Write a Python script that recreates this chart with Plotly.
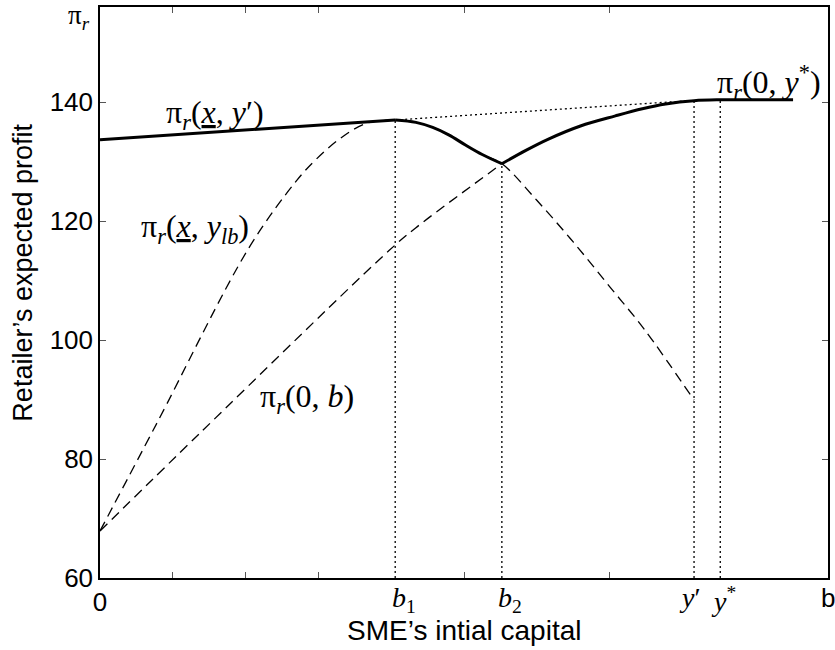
import plotly.graph_objects as go

# Capital thresholds on the horizontal axis
b1, b2, y_prime, y_star = 4.055, 5.52, 8.16, 8.52
x_max = 10.0

# pi_r(x_, y_lb): rises to its peak at b1, then falls
x_lb = [0, 0.78, 2.05, 2.70, 2.97, 3.30, 3.65, 4.055, 4.34, 4.57, 4.79, 5.02, 5.25, 5.52,
        6.0, 6.5, 7.0, 7.49, 8.16]
y_lb = [67.9, 86.0, 115.6, 126.8, 130.4, 133.9, 136.4, 137.0, 136.6, 135.75, 134.5, 132.8, 131.2, 129.65,
        123.5, 116.5, 109.0, 101.6, 89.9]

# pi_r(0, b): increasing in b up to y*, flat afterwards
x_0b = [0, 1.41, 3.97, 4.34, 5.52, 5.85, 6.16, 6.6, 7.08, 7.45, 7.77, 8.16, 8.52, 9.52]
y_0b = [67.9, 84.8, 115.05, 118.9, 129.65, 131.9, 133.8, 136.0, 137.7, 138.9, 139.7, 140.25, 140.4, 140.4]

# pi_r(x_, y'): linear in b
x_lin = [0, 4.055, 8.16]
y_lin = [133.7, 137.0, 140.3]

y_ticks = [60, 80, 100, 120, 140]
x_tick_marks = [0, 1, 2, 3, 5, 7, 10]
x_tick_text = ["0", "", "", "", "", "", ""]

y_range = [60, 156]

SERIF = "Liberation Serif"
SANS = "Liberation Sans"

fig = go.Figure()

dash_line = dict(color="black", width=1.3, dash="10px,6px")
dot_line = dict(color="black", width=1.3, dash="2px,3px")
thick_line = dict(color="black", width=3)

# dashed component curves
fig.add_trace(go.Scatter(x=x_lb, y=y_lb, mode="lines", line_shape="spline", line=dash_line))
i_b2_0b = x_0b.index(b2)
fig.add_trace(go.Scatter(x=x_0b[:i_b2_0b + 1], y=y_0b[:i_b2_0b + 1], mode="lines",
                         line_shape="spline", line=dash_line))

# dotted continuation of the linear profit
fig.add_trace(go.Scatter(x=x_lin[1:], y=y_lin[1:], mode="lines", line=dot_line))

# dotted verticals at the thresholds
i_yp = x_0b.index(y_prime)
i_ys = x_0b.index(y_star)
for xv, yv in [(b1, y_lin[1]), (b2, y_0b[i_b2_0b]), (y_prime, y_0b[i_yp]), (y_star, y_0b[i_ys])]:
    fig.add_trace(go.Scatter(x=[xv, xv], y=[y_range[0], yv], mode="lines", line=dot_line))

# thick upper envelope
i_b1 = x_lb.index(b1)
i_b2 = x_lb.index(b2)
fig.add_trace(go.Scatter(x=x_lin[:2], y=y_lin[:2], mode="lines", line=thick_line))
fig.add_trace(go.Scatter(x=x_lb[i_b1:i_b2 + 1], y=y_lb[i_b1:i_b2 + 1], mode="lines",
                         line_shape="spline", line=thick_line))
fig.add_trace(go.Scatter(x=x_0b[i_b2_0b:], y=y_0b[i_b2_0b:], mode="lines",
                         line_shape="spline", line=thick_line))

math_font = dict(family=SERIF, size=32, color="black")
annotations = [
    dict(x=1.58, y=138.0, text="π<sub><i>r</i></sub>(<u><i>x</i></u>, <i>y</i>′)"),
    dict(x=1.30, y=118.7, text="π<sub><i>r</i></sub>(<u><i>x</i></u>, <i>y</i><sub><i>lb</i></sub>)"),
    dict(x=2.85, y=90.2, text="π<sub><i>r</i></sub>(0, <i>b</i>)"),
    dict(x=9.19, y=143.3, text="π<sub><i>r</i></sub>(0, <i>y</i><sup>*</sup>)"),
]
for a in annotations:
    a.update(xref="x", yref="y", showarrow=False, xanchor="center", yanchor="middle",
             font=math_font)

# threshold labels under the axis
for xv, txt, dx in [(b1, "<i>b</i><sub>1</sub>", 9), (b2, "<i>b</i><sub>2</sub>", 8),
                    (y_prime, "<i>y</i>′", -4), (y_star, "<i>y</i><sup>*</sup>", 3)]:
    annotations.append(dict(x=xv, y=-0.003, xref="x", yref="paper", text=txt,
                            showarrow=False, xanchor="center", yanchor="top",
                            xshift=dx, font=dict(family=SERIF, size=28, color="black")))

# variable name at the right end of the horizontal axis
annotations.append(dict(x=x_max, y=-0.005, xref="x", yref="paper", text="b",
                        showarrow=False, xanchor="center", yanchor="top",
                        font=dict(family=SANS, size=26, color="black")))

# vertical-axis symbol at the top
annotations.append(dict(x=0, y=1.0, xref="paper", yref="paper",
                        text="π<sub><i>r</i></sub>", showarrow=False,
                        xanchor="right", yanchor="top", xshift=-8, yshift=9,
                        font=dict(family=SERIF, size=27, color="black")))

# axis titles
annotations.append(dict(x=0.5, y=-0.062, xref="paper", yref="paper",
                        text="SME’s intial capital", showarrow=False,
                        xanchor="center", yanchor="top",
                        font=dict(family=SANS, size=28, color="black")))
annotations.append(dict(x=-0.107, y=(578 - 272) / 572, xref="paper", yref="paper",
                        text="Retailer’s expected profit", showarrow=False,
                        textangle=-90, xanchor="center", yanchor="middle",
                        font=dict(family=SANS, size=27, color="black")))

fig.update_layout(
    width=835, height=650,
    margin=dict(l=100, r=5, t=6, b=72),
    paper_bgcolor="white", plot_bgcolor="white",
    showlegend=False,
    annotations=annotations,
    xaxis=dict(range=[0, x_max], tickvals=x_tick_marks, ticktext=x_tick_text,
               ticks="inside", ticklen=6, tickwidth=1, tickcolor="#555",
               showline=True, linecolor="black", linewidth=1.5, mirror="ticks",
               showgrid=False, zeroline=False,
               tickfont=dict(family=SANS, size=26, color="black")),
    yaxis=dict(range=y_range, tickvals=y_ticks,
               ticks="inside", ticklen=6, tickwidth=1, tickcolor="#555",
               showline=True, linecolor="black", linewidth=1.5, mirror="ticks",
               showgrid=False, zeroline=False,
               tickfont=dict(family=SANS, size=26, color="black")),
)

fig.write_html("out.html")
